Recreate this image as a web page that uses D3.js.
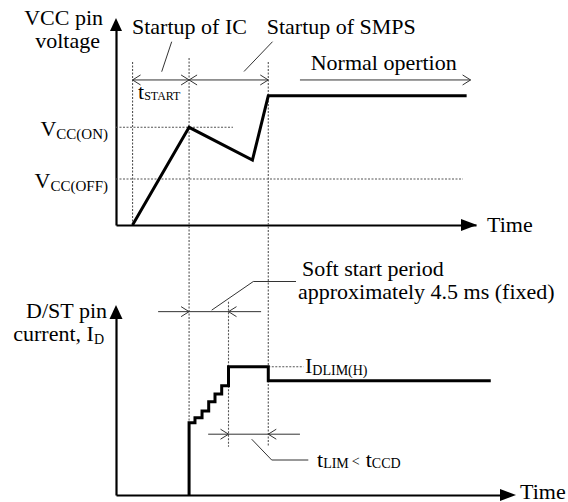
<!DOCTYPE html>
<html><head><meta charset="utf-8">
<script src="https://cdn.jsdelivr.net/npm/d3@7"></script>
<style>
html,body{margin:0;padding:0;background:#fff;}
svg{display:block;font-family:"Liberation Serif","Times New Roman",serif;}
</style></head><body>
<svg id="chart" width="568" height="502"></svg>
<script>
// ---- Data (arbitrary time units, arbitrary voltage/current units) ----
const vccTimes  = [4.6, 20.3, 37.9, 42.3, 97.4];
const vccValues = [0, 9.53, 6.34, 12.6, 12.6];
const idTimes   = [20.3, 20.3, 21.94, 23.9, 25.75, 27.5, 29.36, 31.25, 42.3, 104.1];
const idValues  = [0, 7.61, 8.14, 8.84, 9.82, 10.63, 11.5, 13.5, 12.03, 12.03];
const eventNames = ["start", "icOn", "softEnd", "smps"];
const eventTimes = [4.6, 20.3, 31.25, 42.3];
const vccLevelNames = ["VCC(ON)", "VCC(OFF)"];
const vccLevels = [9.53, 4.49];
const idLimLevel = 13.5;

const ev = {}; eventNames.forEach((n, i) => ev[n] = eventTimes[i]);

const svg = d3.select("#chart");
const FONT = 22, SUB = 14;

// ---- Scales ----
const x  = d3.scaleLinear().domain([0, 100]).range([116, 476]);
const yV = d3.scaleLinear().domain([0, 20]).range([225, 20]);
const yI = d3.scaleLinear().domain([0, 20]).range([495, 305]);

const AX = 116;
// ---- Axes ----
svg.append("g").attr("transform", `translate(0,${yV(0)})`)
  .call(d3.axisBottom(x).tickValues([]).tickSizeOuter(0));
svg.append("g").attr("transform", `translate(${AX},0)`)
  .call(d3.axisLeft(yV.copy().range([225, 28])).tickValues([]).tickSizeOuter(0));
svg.append("g").attr("transform", `translate(0,${yI(0)})`)
  .call(d3.axisBottom(x.copy().domain([0, 107.8]).range([116, 504])).tickValues([]).tickSizeOuter(0));
svg.append("g").attr("transform", `translate(${AX},0)`)
  .call(d3.axisLeft(yI.copy().range([495, 316])).tickValues([]).tickSizeOuter(0));
svg.selectAll(".domain").attr("stroke", "#000").attr("stroke-width", 2.2);

// arrowheads
function tri(pts){ svg.append("path").attr("d", "M" + pts.map(p => p.join(",")).join("L") + "Z").attr("fill", "#000"); }
tri([[AX, 18], [AX - 6, 31], [AX + 6, 31]]);
tri([[AX, 305], [AX - 6.5, 319], [AX + 6.5, 319]]);
tri([[477, yV(0)], [461, yV(0) - 6], [461, yV(0) + 6]]);
tri([[516, yI(0)], [500, yI(0) - 6], [500, yI(0) + 6]]);

// ---- Dotted reference lines ----
const dotted = (x1, y1, x2, y2) => svg.append("line")
  .attr("x1", x1).attr("y1", y1).attr("x2", x2).attr("y2", y2)
  .attr("stroke", "#555").attr("stroke-width", 1.1).attr("stroke-dasharray", "2,1.5");
dotted(x(ev.start), yV(15.9), x(ev.start), yV(0));
dotted(x(ev.icOn), yV(16.3), x(ev.icOn), yI(0));
dotted(x(ev.softEnd), yI(20.35), x(ev.softEnd), yI(5.08));
dotted(x(ev.smps), yV(15.9), x(ev.smps), yI(5.08));
dotted(AX, yV(vccLevels[0]), x(32.5), yV(vccLevels[0]));
dotted(AX, yV(vccLevels[1]), x(96.4), yV(vccLevels[1]));
dotted(x(ev.smps), yI(idLimLevel), x(52.1), yI(idLimLevel));

// ---- Waveforms ----
const vLine = d3.line().x(d => x(d[0])).y(d => yV(d[1]));
svg.append("path").datum(vccTimes.map((t, i) => [t, vccValues[i]]))
  .attr("d", vLine).attr("fill", "none").attr("stroke", "#000")
  .attr("stroke-width", 3).attr("stroke-linejoin", "miter");
const iLine = d3.line().x(d => x(d[0])).y(d => yI(d[1])).curve(d3.curveStepAfter);
svg.append("path").datum(idTimes.map((t, i) => [t, idValues[i]]))
  .attr("d", iLine).attr("fill", "none").attr("stroke", "#000")
  .attr("stroke-width", 3).attr("stroke-linejoin", "miter");

// ---- Annotation arrows ----
const annot = (d) => svg.append("path").attr("d", d).attr("fill", "none")
  .attr("stroke", "#333").attr("stroke-width", 1);
const head = (tx, ty, dir) => { // dir: +1 pointing right, -1 pointing left
  const L = 8, H = 5;
  annot(`M${tx - dir * L},${ty - H}L${tx},${ty}L${tx - dir * L},${ty + H}`);
};
const hline = (x1, x2, yy) => annot(`M${x1},${yy}L${x2},${yy}`);

const yArrTop = yV(14.15);
hline(x(ev.start), x(ev.icOn), yArrTop);
head(x(ev.start), yArrTop, -1); head(x(ev.icOn), yArrTop, 1);
hline(x(ev.icOn), x(ev.smps), yArrTop);
head(x(ev.icOn), yArrTop, -1); head(x(ev.smps), yArrTop, 1);
hline(x(51.1), x(98.5), yArrTop); head(x(98.5), yArrTop, 1);

const ySoft = yI(19.3);
hline(x(11.7), x(40.3), ySoft);
head(x(ev.icOn), ySoft, 1); head(x(ev.softEnd), ySoft, -1);

const yLim = yI(6.4);
hline(x(25.6), x(51.1), yLim);
head(x(ev.softEnd), yLim, 1); head(x(ev.smps), yLim, -1);

// leader lines
annot("M161.7,71.7L171.7,41.7");
annot("M244,71.5L272.5,41.7");
annot(`M211.7,${ySoft - 1.5}L253.3,281.5L296,281.5`);
annot(`M251.7,${yLim + 5}L271.7,460L308.3,460`);

// ---- Text ----
function label(xx, yy, parts, anchor) {
  const t = svg.append("text").attr("x", xx).attr("y", yy)
    .attr("text-anchor", anchor || "start").attr("fill", "#000");
  let prevDy = 0;
  parts.forEach(p => {
    const [txt, size, off, dx] = p;
    const s = t.append("tspan").attr("font-size", size).text(txt);
    const dy = (off || 0) - prevDy;
    if (dy) s.attr("dy", dy);
    if (dx) s.attr("dx", dx);
    prevDy = off || 0;
  });
  return t;
}
label(103, 25, [["VCC pin", FONT]], "end");
label(100, 48, [["voltage", FONT]], "end");
label(132, 34, [["Startup of IC", FONT]]);
label(266.7, 34, [["Startup of SMPS", FONT]]);
label(310.7, 70, [["Normal opertion", FONT]]);
label(138, 99, [["t", FONT], ["START", 12, 1]]);
label(108, 136, [["V", FONT], ["CC(ON)", 15, 3]], "end");
label(108, 188, [["V", FONT], ["CC(OFF)", 15, 3]], "end");
label(487, 231.5, [["Time", FONT]]);

label(107, 318, [["D/ST pin", FONT]], "end");
label(104, 341, [["current, I", FONT], ["D", SUB, 3]], "end");
label(302, 276, [["Soft start period", FONT]]);
label(298, 299, [["approximately 4.5 ms (fixed)", FONT]]);
label(305, 373, [["I", FONT], ["DLIM(H)", SUB, 2]]);
label(317, 466.5, [["t", FONT], ["LIM", SUB, 1.5], ["<", SUB, -1, 3], ["t", FONT, 0, 6], ["CCD", SUB, 1.5]]);
label(520, 498.5, [["Time", FONT]]);
</script>
</body></html>
